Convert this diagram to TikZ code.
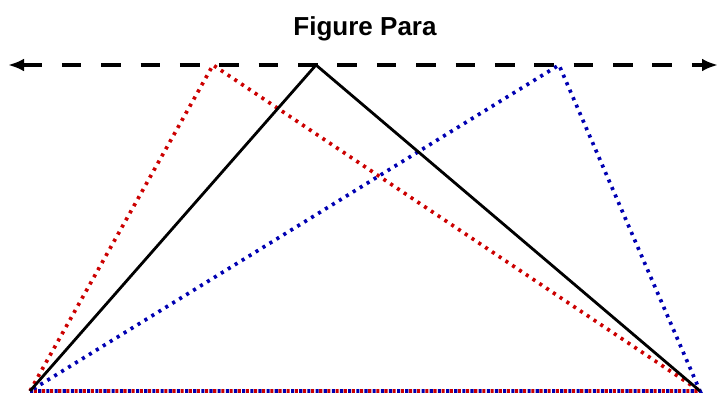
\documentclass[tikz,border=0pt]{standalone}
\usepackage{fontspec}
\setmainfont{Liberation Sans}
\usetikzlibrary{arrows.meta}
\tikzset{
  axis/.style={{Latex[length=4mm,width=3.2mm]}-{Latex[length=4mm,width=3.2mm]}, line width=2.6pt, black, dash pattern=on 14pt off 14pt},
  solidtri/.style={draw=black, line width=2pt, line join=round},
  redtri/.style={draw=red!80!black, line width=2.6pt, dash pattern=on 2.2pt off 3.6pt},
  bluetri/.style={draw=blue!70!black, line width=2.6pt, dash pattern=on 2.2pt off 3.6pt, dash phase=2.9pt},
  title/.style={font=\bfseries\fontsize{18.5}{20}\selectfont}
}
\begin{document}
\begin{tikzpicture}[x=0.025cm,y=-0.025cm]
  \useasboundingbox (0,0) rectangle (720,396);
  \node[title] (ttl) at (365,29) {Figure Para};
  % base corners and apexes
  \coordinate (bl) at (30,391);
  \coordinate (br) at (700,391);
  \coordinate (ared) at (213,65);
  \coordinate (ablk) at (316,65);
  \coordinate (ablu) at (559,65);
  \coordinate (ll) at (8,65);
  \coordinate (rr) at (718,65);
  \draw[axis] (ll) -- (rr);
  \draw[redtri] (bl) -- (ared) -- (br) -- cycle;
  \draw[bluetri] (bl) -- (ablu) -- (br) -- cycle;
  \draw[solidtri] (bl) -- (ablk) -- (br);
\end{tikzpicture}
\end{document}
